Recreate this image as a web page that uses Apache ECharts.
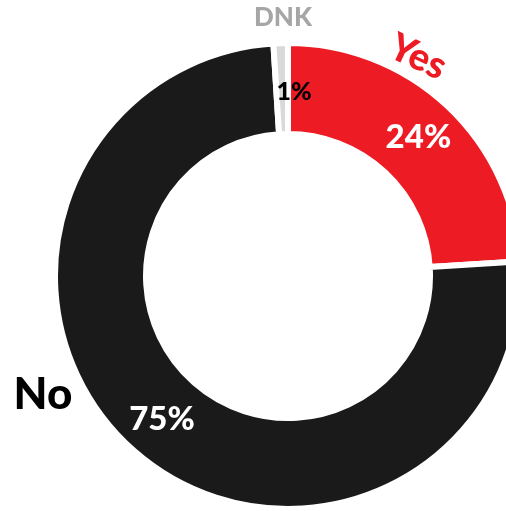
<!DOCTYPE html>
<html><head><meta charset="utf-8">
<script src="https://cdn.jsdelivr.net/npm/echarts@6/dist/echarts.min.js"></script>
<style>html,body{margin:0;padding:0;background:#fff}#c{width:506px;height:511px}</style>
</head><body><div id="c"></div>
<script>
const categories = ['Yes', 'No', 'DNK'];
const values = [24, 75, 1];
const pctLabels = ['24%', '75%', '1%'];
const sliceColors = ['#ED1C24', '#1A1A1A', '#D9D9D9'];
const pctColors = ['#ffffff', '#ffffff', '#000000'];

const FONT = 'Lato, "Open Sans", sans-serif';
const chart = echarts.init(document.getElementById('c'), null, {renderer: 'canvas'});

const data = categories.map((c, i) => ({
  name: c,
  value: values[i],
  itemStyle: {color: sliceColors[i]},
  label: {
    color: pctColors[i],
    fontSize: i === 2 ? 25 : 33,
    offset: i === 2 ? [12, 6] : [0, 0]
  }
}));

chart.setOption({
  animation: false,
  series: [{
    type: 'pie',
    center: [288, 276],
    radius: [142, 233],
    startAngle: 90,
    clockwise: true,
    avoidLabelOverlap: false,
    itemStyle: {borderColor: '#ffffff', borderWidth: 6},
    label: {
      show: true,
      position: 'inside',
      fontFamily: FONT,
      fontWeight: 900,
      formatter: p => pctLabels[p.dataIndex]
    },
    labelLine: {show: false},
    emphasis: {disabled: true},
    data: data
  }],
  graphic: [
    {type: 'text', x: 418, y: 57, rotation: -25 * Math.PI / 180,
     style: {text: categories[0], fill: '#ED1C24', font: '900 38px ' + FONT, align: 'center', verticalAlign: 'middle'}},
    {type: 'text', x: 43, y: 395,
     style: {text: categories[1], fill: '#000000', font: '900 44px ' + FONT, align: 'center', verticalAlign: 'middle'}},
    {type: 'text', x: 283, y: 18,
     style: {text: categories[2], fill: '#A6A6A6', font: '900 26px ' + FONT, align: 'center', verticalAlign: 'middle'}}
  ]
});
</script></body></html>
